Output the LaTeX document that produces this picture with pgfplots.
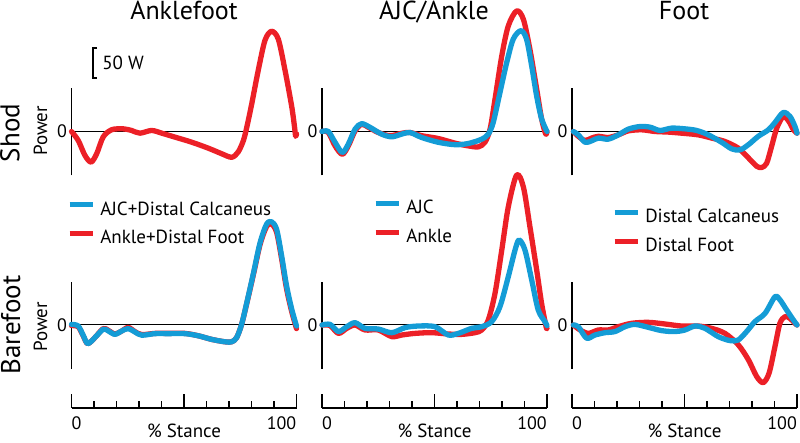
\documentclass[border=0pt]{standalone}
\usepackage{fontspec}
\setmainfont{PT Sans}
\usepackage{pgfplots}
\pgfplotsset{compat=1.18}
\definecolor{pred}{RGB}{236,32,39}
\definecolor{pblue}{RGB}{20,156,214}
\newcommand\fs[1]{\fontsize{#1}{#1}\selectfont}

\pgfplotsset{
  panel/.style={anchor=south west, x=2.25pt, y=0.6pt, xmin=0, xmax=100,
    clip=false, axis y line=none},
  toprow/.style={panel, hide axis, ymin=-100, ymax=230},
  botrow/.style={panel, ymin=-138.33, ymax=230, axis x line*=bottom,
    xtick={0,50,100}, minor xtick={10,20,30,40,60,70,80,90}, xticklabels={},
    tick align=inside, major tick length=14pt, minor tick length=7pt,
    tick style={black, line width=1.6pt},
    axis line style={black, line width=1.6pt, -}},
  redc/.style={pred, line width=5.3pt, smooth, line join=round, line cap=round},
  bluec/.style={pblue, line width=5.3pt, smooth, line join=round, line cap=round},
  leg/.style={reverse legend, legend cell align=left,
    legend image code/.code={\draw[##1, line width=5.3pt, line cap=butt, smooth=false] (0pt,6pt) -- (23pt,6pt);},
    legend style={draw=none, fill=none, inner sep=0pt, outer sep=0pt, anchor=north west,
      font=\fs{19}, row sep=11pt, column sep=4pt,
      nodes={inner sep=1pt, text height=12pt, text depth=3.5pt}}},
}
% frame of each panel: vertical axis and zero line
\newcommand\frm{%
  \draw[black, line width=1pt] (axis cs:0,0) -- (axis cs:100,0);
  \draw[black, line width=1.6pt] (axis cs:0,-73) -- (axis cs:0,72);
  \node[font=\fs{18}, anchor=center] at ([xshift=-9.5pt]axis cs:0,0) {0};
}
\newcommand\xlab{%
  \node[font=\fs{18}, anchor=north west, inner sep=0pt] at ([yshift=-8pt]axis cs:0,-138.33) {0};
  \node[font=\fs{18}, anchor=north east, inner sep=0pt] at ([yshift=-8pt]axis cs:100,-138.33) {100};
  \node[font=\fs{19}, anchor=base, inner sep=0pt] at ([yshift=-30pt]axis cs:50,-138.33) {\% Stance};
}

\begin{document}
\begin{tikzpicture}[x=1pt,y=1pt]

% ---------- Shod ----------
\begin{axis}[toprow, at={(71.5pt,251.5pt)}]
\frm
\addplot[redc] coordinates {(0,0)(3,-15)(6,-40)(8.7,-51)(11.2,-37)(14.1,-9)(17.9,3)(23,4.4)(26.7,1.7)(30.4,-2.8)(35.6,1.7)(40.1,-2.8)(46,-9.4)(53.4,-17.8)(60.8,-27.8)(66.7,-37)(71.2,-43)(74.1,-34)(76.4,-15)(77.9,7)(80.1,46)(83,102)(86,152)(88.9,167)(91.9,154)(94.9,102)(97.9,41)(99.2,5)(99.6,-8)(100,-4)};
\draw[black, line width=1.3pt] ([xshift=4pt]axis cs:9.6,139) -- (axis cs:9.6,139) -- (axis cs:9.6,89) -- ([xshift=4pt]axis cs:9.6,89);
\node[font=\fs{19}, anchor=west, inner sep=0pt] at ([xshift=9pt]axis cs:9.6,114) {50 W};
\end{axis}

\begin{axis}[toprow, at={(322pt,251.5pt)}]
\frm
\addplot[redc] coordinates {(0,0)(2.8,-1.7)(5.8,-24)(9,-38)(11.7,-24)(14.7,1)(17.6,12)(20.6,7)(25,-1.7)(30.2,-7)(35.4,-3)(39.1,-1.7)(44.3,-7)(51.7,-11.7)(59.1,-19.4)(65,-24)(69.5,-25.6)(72.4,-18)(74.7,4)(76.9,54)(79.9,126)(82.8,176)(86.5,201)(89.5,187)(92.4,137)(95.4,71)(97.6,21)(99.4,-4)(100,0)};
\addplot[bluec] coordinates {(0,0)(2.8,0)(5.8,-18)(9,-35)(11.7,-21)(14.7,4)(17.6,13)(21.3,7)(26.5,-4.4)(31,-8.9)(35.4,-4.4)(39.1,-1.7)(44.3,-10)(51.7,-18)(59.1,-22)(65,-20)(71,-12.8)(73.9,-4.4)(76.1,15)(79.1,65)(82.1,115)(85,154)(88.4,168)(90.9,154)(93.2,109)(95.4,59)(97.6,21)(100,0)};
\end{axis}

\begin{axis}[toprow, at={(572pt,251.5pt)}]
\frm
\addplot[redc] coordinates {(0.6,0)(2.8,-8)(5.8,-15)(8.7,-11)(11.7,-8)(16.1,-10)(20.6,-5.6)(25,1)(31,2.8)(36.9,0)(42.8,-1)(48.7,-2.8)(56.1,-5.6)(62.1,-11)(68,-16.7)(73.9,-27.8)(78.4,-44)(82.1,-58)(84.3,-60)(86.5,-53)(88.7,-25)(91,5.6)(93.9,25)(96.4,16.7)(98.4,2.8)(100,-2.8)};
\addplot[bluec] coordinates {(0.6,0)(2.8,-5.6)(5.8,-18)(8.7,-15.6)(11.7,-11)(16.1,-12.8)(20.6,-5.6)(25,3.9)(30.2,8.3)(34.7,7.2)(39.1,1.7)(44.3,5.6)(50.2,4.4)(55.4,1.7)(60.6,-5.6)(66.5,-18)(71,-29)(74.7,-30.6)(78.4,-22)(82.8,-8)(87.3,2.8)(90.2,15)(93.9,31.7)(96.9,25)(99.1,8.3)(100,-2.8)};
\end{axis}

% ---------- Barefoot ----------
\begin{axis}[botrow, leg, at={(71.5pt,35pt)}, legend style={at={(-0.02,0.932)}}]
\frm
\xlab
\addplot[redc] coordinates {(0,-1)(3,-3)(5.3,-19)(7.2,-31)(10.4,-21)(14.1,-6)(16.4,-9)(19.3,-15)(22.3,-10)(25.2,-4)(28.2,-11)(31.2,-16)(37.1,-14)(43,-14)(50.4,-14)(56.4,-18)(62.3,-24)(68.2,-28)(71.2,-28)(73.4,-21)(75.6,1)(77.9,36)(80.9,85)(83.8,134)(86.7,164)(89,168)(91.2,154)(93.4,110)(95.6,60)(97.9,22)(100,-6)};
\addlegendentry{Ankle+Distal Foot}
\addplot[bluec] coordinates {(0,1)(3,-1.7)(5.3,-18)(7.2,-31)(10.4,-21)(14.1,-7)(16.4,-10)(19.3,-15.6)(22.3,-10)(25.2,-6)(28.2,-11.7)(31.2,-17)(37.1,-14.4)(43,-14.4)(50.4,-14.4)(56.4,-18)(62.3,-24)(68.2,-28)(71.2,-28)(73.4,-21)(75.6,1)(77.9,37)(80.9,87)(83.8,137)(86.7,168)(89,172)(91.2,159)(93.4,115)(95.6,65)(97.9,26)(100,-1.7)};
\addlegendentry{AJC+Distal Calcaneus}
\end{axis}

\begin{axis}[botrow, leg, at={(322pt,35pt)}, legend style={at={(0.2267,0.9367)}}]
\frm
\xlab
\addplot[redc] coordinates {(0,0)(3.6,-1)(7.3,-14)(11,-5.6)(14.7,0)(19.1,-8.3)(25,-8.3)(31,-19.4)(35.4,-16.7)(41.3,-14)(48.7,-12.8)(56.1,-15)(62.1,-15.6)(68,-12.8)(71,-8.3)(73.9,8.3)(76.9,53)(79.9,125)(82.8,197)(86.5,250)(89.5,230)(92.4,164)(95.4,92)(97.6,36)(99.6,-3)(100,-5)};
\addlegendentry{Ankle}
\addplot[bluec] coordinates {(0,0)(3.6,1)(7.3,-11)(11,-2.8)(14.7,3.9)(19.1,-5.6)(25,-6.7)(31,-12.8)(36.9,-4.4)(42.8,-1.7)(50.2,-2.8)(56.1,-16.7)(60.6,-14)(66.5,-5.6)(71,-2.8)(75.4,5.6)(79.1,30.6)(82.8,80.6)(85.8,125)(87.6,141.7)(90.2,125)(93.2,75)(96.1,25)(99.1,5.6)(100,-1)};
\addlegendentry{AJC}
\end{axis}

\begin{axis}[botrow, leg, at={(572pt,35pt)}, legend style={at={(0.1778,0.896)}}]
\frm
\xlab
\addplot[redc] coordinates {(0.6,0)(3.6,-8.3)(7.3,-14)(11.7,-8.3)(16.1,-8.3)(20.6,-2.8)(26.5,2.8)(33.9,4.4)(41.3,1.7)(48.7,-1.7)(56.1,-1.7)(62.1,-5.6)(68,-14)(73.9,-33)(78.4,-58)(82.1,-86)(85,-96)(87.6,-80)(90.2,-36)(92.4,2.8)(94.7,14)(96.9,11)(99.1,2.8)(100,0)};
\addlegendentry{Distal Foot}
\addplot[bluec] coordinates {(0.6,0)(2.8,-2.8)(6.5,-22)(10.2,-16.7)(14.7,-12.8)(19.1,-11)(23.6,-2.8)(28,1)(33.9,-3.9)(39.9,-9.4)(45.8,-11)(50.2,-8.3)(54.7,-1.7)(59.1,-5.6)(65,-19.4)(70.2,-26)(73.9,-25)(77.6,-11)(81.3,5.6)(85.8,19.4)(90.2,47)(92.4,42)(95.4,25)(98.4,8.3)(100,0)};
\addlegendentry{Distal Calcaneus}
\end{axis}

% ---------- titles and row labels ----------
\node[font=\fs{26}, anchor=base] at (184,423) {Anklefoot};
\node[font=\fs{26}, anchor=base] at (434,423) {AJC/Ankle};
\node[font=\fs{26}, anchor=base] at (684,423) {Foot};
\node[font=\fs{27}, anchor=base, rotate=90] at (19.5,310) {Shod};
\node[font=\fs{27}, anchor=base, rotate=90] at (20,118) {Barefoot};
\node[font=\fs{19}, anchor=base, rotate=90] at (47,312) {Power};
\node[font=\fs{19}, anchor=base, rotate=90] at (47,116) {Power};

\pgfresetboundingbox
\path[use as bounding box] (0,0) rectangle (800,443);
\end{tikzpicture}
\end{document}
